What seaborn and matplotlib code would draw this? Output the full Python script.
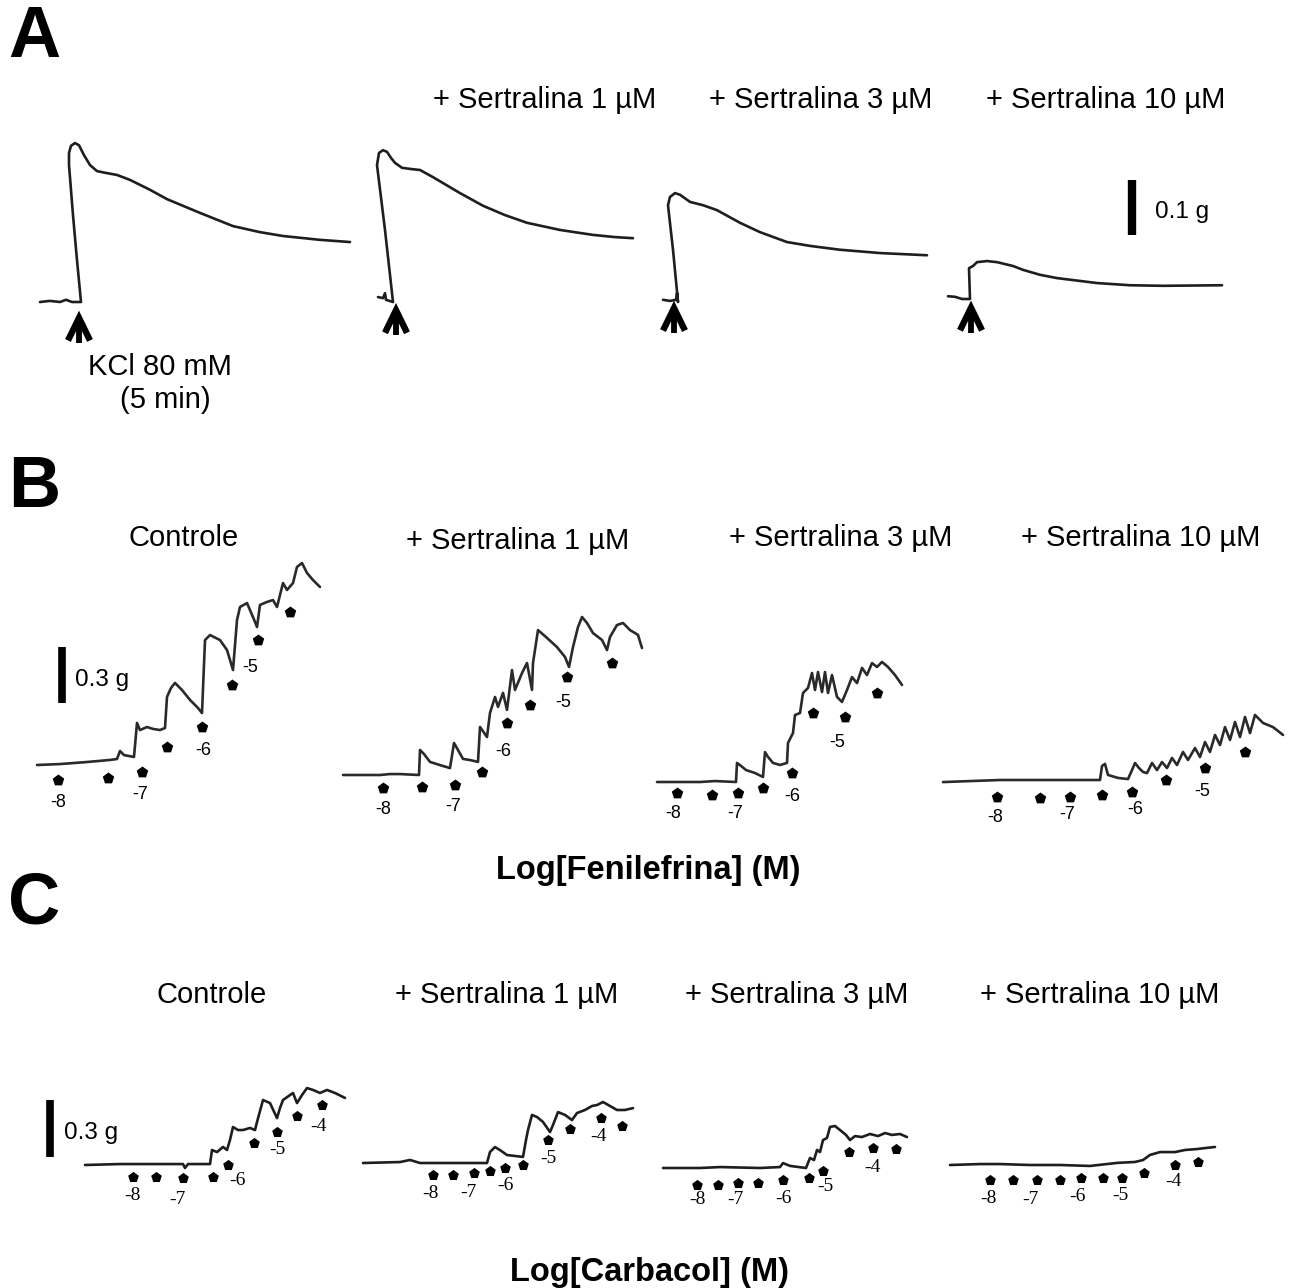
import matplotlib
matplotlib.use("Agg")
import matplotlib.pyplot as plt
import seaborn as sns

# ------------------------------------------------------------------ data
# Panel A: KCl 80 mM responses; time (s) from KCl addition, tension (g)
A_titles = ["", "+ Sertralina 1 µM", "+ Sertralina 3 µM", "+ Sertralina 10 µM"]
A_t = [
    [-41, -31, -21, -15, -9, 0, -4, -8, -12, -12, -10, -6, -2, 3, 9, 16, 24, 36, 49, 69, 86, 119, 152, 179, 202, 239, 269],
    [-15, -10, -8, -7, 0, -8, -16, -14, -10, -6, -2, 2, 9, 17, 27, 40, 67, 90, 112, 134, 167, 200, 222, 240],
    [-15, -8, -2, -1, 0, -5, -10, -8, -3, 2, 12, 25, 39, 50, 62, 82, 109, 132, 162, 202, 249],
    [-22, -15, -8, 0, -1, 3, 7, 17, 27, 43, 53, 70, 87, 127, 160, 193, 252],
]
A_g = [
    [0, 0.002, 0, 0.004, 0, 0, 0.076, 0.158, 0.249, 0.271, 0.284, 0.289, 0.285, 0.267, 0.249, 0.238, 0.235, 0.231, 0.222, 0.204, 0.187, 0.162, 0.138, 0.127, 0.120, 0.113, 0.109],
    [0.009, 0.007, 0.016, 0.004, 0, 0.131, 0.249, 0.271, 0.276, 0.273, 0.262, 0.253, 0.244, 0.242, 0.240, 0.227, 0.198, 0.175, 0.158, 0.144, 0.131, 0.122, 0.118, 0.116],
    [0.004, 0.002, 0.004, 0.016, 0, 0.095, 0.176, 0.191, 0.198, 0.195, 0.182, 0.176, 0.167, 0.156, 0.144, 0.127, 0.109, 0.102, 0.095, 0.089, 0.085],
    [0.005, 0.004, 0, 0, 0.056, 0.060, 0.067, 0.069, 0.067, 0.060, 0.053, 0.044, 0.038, 0.029, 0.025, 0.024, 0.025],
]
A_arrow_t = [-2, 3, -4, 1]
A_arrow_g = [-0.029, -0.015, -0.011, -0.016]
A_stim_label = ["KCl 80 mM", "(5 min)"]
A_bar_value = 0.1  # g
A_bar_label = "0.1 g"

# Panel B: cumulative phenylephrine; time (s), tension (g)
B_titles = ["Controle", "+ Sertralina 1 µM", "+ Sertralina 3 µM", "+ Sertralina 10 µM"]
B_t = [
    [0, 23, 50, 73, 80, 83, 87, 97, 100, 103, 110, 116, 123, 128, 130, 134, 138, 145, 153, 161, 165, 168, 173, 183, 190, 196, 200, 203, 210, 216, 220, 223, 230, 236, 240, 246, 250, 256, 260, 265, 270, 276, 283],
    [0, 37, 47, 57, 76, 77, 81, 87, 97, 107, 111, 115, 120, 127, 135, 137, 144, 147, 152, 155, 160, 164, 169, 172, 179, 184, 189, 190, 195, 204, 214, 222, 226, 230, 235, 239, 244, 250, 259, 264, 267, 274, 280, 287, 292, 295, 299],
    [0, 43, 58, 79, 80, 84, 89, 98, 106, 108, 111, 116, 123, 130, 131, 136, 138, 143, 146, 151, 155, 158, 161, 165, 168, 171, 175, 180, 185, 190, 195, 200, 205, 210, 215, 220, 225, 231, 238, 245],
    [0, 57, 107, 157, 159, 162, 165, 175, 185, 189, 192, 196, 200, 204, 209, 214, 219, 224, 229, 234, 240, 245, 252, 257, 262, 267, 272, 277, 282, 287, 292, 297, 302, 307, 312, 320, 330, 340],
]
B_g = [
    [0, 0.005, 0.016, 0.027, 0.032, 0.075, 0.053, 0.043, 0.225, 0.187, 0.203, 0.193, 0.187, 0.198, 0.364, 0.412, 0.439, 0.401, 0.348, 0.305, 0.278, 0.668, 0.695, 0.668, 0.615, 0.508, 0.775, 0.845, 0.866, 0.791, 0.738, 0.856, 0.872, 0.882, 0.845, 0.973, 0.936, 0.973, 1.059, 1.080, 1.027, 0.989, 0.952],
    [0, 0, 0.005, 0.005, 0, 0.134, 0.112, 0.070, 0.053, 0.037, 0.171, 0.134, 0.086, 0.080, 0.070, 0.257, 0.203, 0.332, 0.417, 0.364, 0.439, 0.348, 0.561, 0.455, 0.545, 0.599, 0.455, 0.599, 0.775, 0.733, 0.684, 0.631, 0.578, 0.684, 0.791, 0.845, 0.813, 0.759, 0.722, 0.668, 0.738, 0.802, 0.813, 0.775, 0.759, 0.749, 0.679],
    [0, 0, 0.005, 0, 0.102, 0.086, 0.064, 0.048, 0.027, 0.160, 0.134, 0.102, 0.091, 0.102, 0.209, 0.262, 0.358, 0.369, 0.476, 0.503, 0.583, 0.492, 0.588, 0.481, 0.588, 0.476, 0.572, 0.455, 0.428, 0.492, 0.561, 0.529, 0.610, 0.572, 0.636, 0.615, 0.642, 0.615, 0.572, 0.519],
    [-0.011, 0, 0, 0, 0.075, 0.086, 0.027, 0.011, 0.005, 0.053, 0.091, 0.064, 0.043, 0.037, 0.091, 0.053, 0.096, 0.064, 0.118, 0.080, 0.150, 0.107, 0.171, 0.123, 0.203, 0.150, 0.241, 0.187, 0.283, 0.214, 0.310, 0.230, 0.337, 0.251, 0.348, 0.305, 0.283, 0.241],
]
B_mark_t = [
    [21, 71, 105, 130, 165, 195, 221, 253],
    [40, 79, 112, 139, 164, 187, 224, 269],
    [20, 55, 81, 106, 135, 156, 188, 220],
    [54, 97, 127, 159, 189, 223, 262, 302],
]
B_mark_g = [
    [-0.080, -0.070, -0.037, 0.096, 0.203, 0.428, 0.668, 0.818],
    [-0.070, -0.064, -0.053, 0.016, 0.278, 0.374, 0.524, 0.599],
    [-0.059, -0.070, -0.059, -0.032, 0.048, 0.369, 0.348, 0.476],
    [-0.091, -0.096, -0.091, -0.080, -0.064, 0.000, 0.064, 0.150],
]
B_lab_text = ["-8", "-7", "-6", "-5"]
B_lab_t = [[21, 103, 166, 213], [40, 110, 160, 220], [16, 78, 135, 180], [52, 124, 192, 259]]
B_lab_g = [[-0.198, -0.160, 0.080, 0.519], [-0.187, -0.171, 0.123, 0.390],
           [-0.166, -0.166, -0.080, 0.209], [-0.198, -0.187, -0.160, -0.064]]
B_bar_value = 0.3
B_bar_label = "0.3 g"
B_xlabel = "Log[Fenilefrina] (M)"

# Panel C: cumulative carbachol; time (s), tension (g)
C_titles = ["Controle", "+ Sertralina 1 µM", "+ Sertralina 3 µM", "+ Sertralina 10 µM"]
C_t = [
    [0, 35, 65, 98, 100, 103, 125, 127, 132, 138, 142, 145, 148, 153, 158, 165, 170, 172, 178, 185, 192, 195, 198, 205, 208, 212, 217, 222, 228, 235, 242, 250, 260],
    [0, 37, 47, 57, 124, 127, 132, 137, 144, 152, 160, 163, 165, 169, 174, 180, 187, 190, 195, 202, 209, 214, 222, 229, 234, 240, 247, 254, 262, 270],
    [0, 37, 57, 97, 117, 120, 127, 143, 147, 151, 154, 157, 160, 164, 167, 172, 177, 183, 187, 192, 199, 207, 215, 222, 229, 237, 244],
    [0, 30, 50, 80, 110, 140, 167, 185, 193, 200, 210, 225, 235, 247, 255, 265],
]
C_g = [
    [0, 0.005, 0.005, 0.005, -0.016, 0.005, 0.005, 0.079, 0.068, 0.095, 0.079, 0.132, 0.200, 0.184, 0.184, 0.195, 0.184, 0.226, 0.342, 0.326, 0.247, 0.300, 0.342, 0.368, 0.379, 0.326, 0.368, 0.405, 0.395, 0.379, 0.395, 0.379, 0.353],
    [0, 0.005, 0.016, 0, 0, 0.058, 0.084, 0.068, 0.042, 0.037, 0.032, 0.121, 0.174, 0.253, 0.242, 0.216, 0.163, 0.200, 0.268, 0.253, 0.226, 0.263, 0.279, 0.300, 0.305, 0.321, 0.300, 0.279, 0.279, 0.289],
    [0, 0, 0.005, 0, 0.005, 0.026, 0.011, 0, 0.053, 0.042, 0.095, 0.084, 0.147, 0.158, 0.216, 0.221, 0.200, 0.174, 0.147, 0.168, 0.163, 0.179, 0.168, 0.184, 0.174, 0.179, 0.163],
    [0, 0.005, 0.005, 0, 0, -0.005, 0.011, 0.016, 0.026, 0.053, 0.068, 0.068, 0.079, 0.084, 0.089, 0.095],
]
C_mark_t = [
    [48, 71, 98, 128, 143, 169, 192, 212, 237],
    [70, 90, 111, 127, 142, 160, 185, 207, 238, 259],
    [34, 55, 75, 95, 120, 146, 160, 186, 210, 233],
    [40, 63, 87, 110, 131, 153, 172, 194, 225, 248],
]
C_mark_g = [
    [-0.063, -0.063, -0.068, -0.063, 0.000, 0.116, 0.174, 0.258, 0.316],
    [-0.063, -0.063, -0.053, -0.042, -0.026, -0.011, 0.121, 0.179, 0.237, 0.195],
    [-0.089, -0.089, -0.079, -0.079, -0.063, -0.053, -0.016, 0.084, 0.105, 0.100],
    [-0.079, -0.079, -0.079, -0.079, -0.068, -0.068, -0.068, -0.042, 0.000, 0.016],
]
C_lab_text = ["-8", "-7", "-6", "-5", "-4"]
C_lab_t = [[47, 92, 152, 192, 233], [67, 105, 142, 185, 235], [34, 72, 120, 162, 209], [38, 80, 127, 170, 223]]
C_lab_g = [[-0.158, -0.184, -0.079, 0.079, 0.205], [-0.158, -0.153, -0.121, 0.026, 0.137],
           [-0.168, -0.168, -0.158, -0.095, 0.000], [-0.174, -0.184, -0.168, -0.158, -0.089]]
C_bar_value = 0.3
C_bar_label = "0.3 g"
C_xlabel = "Log[Carbacol] (M)"

# ------------------------------------------------------------------ layout
W, H = 1298, 1288
SANS = ["Liberation Sans", "DejaVu Sans"]
SERIF = ["Liberation Serif", "DejaVu Serif"]
sns.set_style("white")
plt.rcParams["font.family"] = SANS
plt.rcParams["text.color"] = "black"

fig = plt.figure(figsize=(W / 100, H / 100), dpi=100)
fig.patch.set_facecolor("white")

A_origin = [(81, 302), (393, 302), (678, 302), (970, 299)]
B_origin = [(37, 765), (343, 775), (657, 782), (943, 780)]
C_origin = [(85, 1165), (363, 1163), (663, 1168), (950, 1165)]
A_ppg, B_ppg, C_ppg = 550.0, 187.0, 190.0   # pixels per gram
PPS = 1.0                                    # pixels per second
TRACE_COLOR = "#1e1e1e"


def trace_axes(x0, y0, ppg):
    ax = fig.add_axes([0, 0, 1, 1])
    ax.set_xlim(-x0 / PPS, (W - x0) / PPS)
    ax.set_ylim(-(H - y0) / ppg, y0 / ppg)
    ax.set_axis_off()
    ax.patch.set_visible(False)
    return ax


def ftext(x, y, s, **kw):
    fig.text(x / W, 1 - y / H, s, color="black", **kw)


# ---- panel A
A_axes = []
for i in range(4):
    ax = trace_axes(*A_origin[i], A_ppg)
    A_axes.append(ax)
    sns.lineplot(x=A_t[i], y=A_g[i], sort=False, estimator=None, errorbar=None,
                 color=TRACE_COLOR, lw=1.9, ax=ax, legend=False)
    t0, g0 = A_arrow_t[i], A_arrow_g[i]
    h = 25 / A_ppg
    ax.plot([t0 - 11, t0, t0 + 11], [g0 - h * 0.9, g0, g0 - h * 0.9], color="black",
            lw=4.6, solid_joinstyle="miter", solid_capstyle="butt")
    ax.plot([t0, t0], [g0 - h * 0.15, g0 - h], color="black", lw=4.2, solid_capstyle="butt")

# scale bar A (in last trace axes)
axA = A_axes[3]
axA.plot([162, 162], [0.116, 0.116 + A_bar_value], color="black", lw=6, solid_capstyle="butt")
axA.text(185, 0.158, A_bar_label, ha="left", va="center", fontsize=17.5, color="black")

# ---- panel B
for i in range(4):
    ax = trace_axes(*B_origin[i], B_ppg)
    sns.lineplot(x=B_t[i], y=B_g[i], sort=False, estimator=None, errorbar=None,
                 color="#2a2a2a", lw=1.9, ax=ax, legend=False)
    sns.scatterplot(x=B_mark_t[i], y=B_mark_g[i], marker="p", s=75, color="black",
                    linewidth=0, ax=ax, legend=False)
    for s, t, g in zip(B_lab_text, B_lab_t[i], B_lab_g[i]):
        ax.text(t, g, s, ha="center", va="center", fontsize=13, color="black")
    if i == 0:
        ax.plot([25, 25], [0.332, 0.332 + B_bar_value], color="black", lw=5.5, solid_capstyle="butt")
        ax.text(38, 0.455, B_bar_label, ha="left", va="center", fontsize=17.5, color="black")

# ---- panel C
for i in range(4):
    ax = trace_axes(*C_origin[i], C_ppg)
    sns.lineplot(x=C_t[i], y=C_g[i], sort=False, estimator=None, errorbar=None,
                 color="#1e1e1e", lw=1.9, ax=ax, legend=False)
    sns.scatterplot(x=C_mark_t[i], y=C_mark_g[i], marker="p", s=65, color="black",
                    linewidth=0, ax=ax, legend=False)
    for s, t, g in zip(C_lab_text, C_lab_t[i], C_lab_g[i]):
        ax.text(t, g, s, ha="center", va="center", fontsize=14, family=SERIF, color="black")
    if i == 0:
        ax.plot([-35, -35], [0.042, 0.042 + C_bar_value], color="black", lw=5.5, solid_capstyle="butt")
        ax.text(-21, 0.168, C_bar_label, ha="left", va="center", fontsize=17.5, color="black")

# ---- texts
for lab, y in (("A", 38), ("B", 488), ("C", 904)):
    ftext(8, y, lab, ha="left", va="center", fontsize=52, fontweight="bold")

for s, x in zip(A_titles, [0, 545, 821, 1106]):
    if s:
        ftext(x, 100, s, ha="center", va="center", fontsize=21)
ftext(160, 367, A_stim_label[0], ha="center", va="center", fontsize=21)
ftext(165, 400, A_stim_label[1], ha="center", va="center", fontsize=21)

for s, x, y in zip(B_titles, [184, 518, 841, 1141], [538, 541, 538, 538]):
    ftext(x, y, s, ha="center", va="center", fontsize=21)
ftext(648, 870, B_xlabel, ha="center", va="center", fontsize=23.5, fontweight="bold")

for s, x in zip(C_titles, [212, 507, 797, 1100]):
    ftext(x, 995, s, ha="center", va="center", fontsize=21)
ftext(650, 1272, C_xlabel, ha="center", va="center", fontsize=23.5, fontweight="bold")

fig.savefig("out.png", dpi=100, facecolor="white")
